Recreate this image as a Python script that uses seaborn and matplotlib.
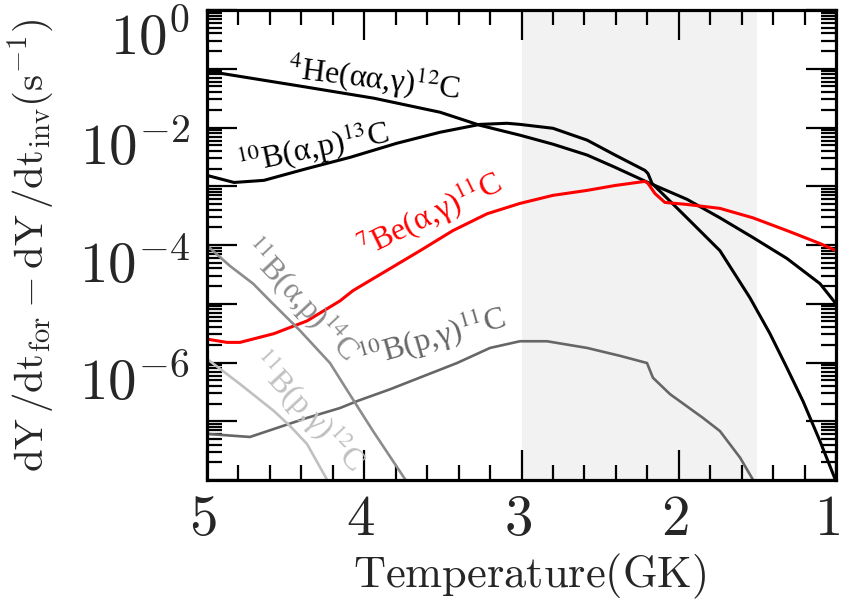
import matplotlib
matplotlib.use("Agg")
import matplotlib.pyplot as plt
import matplotlib.transforms as mtransforms
from matplotlib.ticker import MultipleLocator, LogLocator, NullFormatter
import pandas as pd
import seaborn as sns

# Net rates dY/dt_for - dY/dt_inv (s^-1) versus temperature (GK)
he4_T = [5.0, 4.917, 4.364, 3.938, 3.518, 3.264, 3.010, 2.800, 2.583, 2.405,
         2.196, 1.948, 1.738, 1.528, 1.312, 1.102, 1.0]
he4_rate = [9.1e-2, 8.4e-2, 4.85e-2, 3.15e-2, 1.82e-2, 1.09e-2, 7.4e-3, 5.2e-3,
            3.4e-3, 2.1e-3, 1.16e-3, 6.0e-4, 2.9e-4, 1.34e-4, 5.9e-5, 2.2e-5, 1.0e-5]

b10ap_T = [5.0, 4.828, 4.638, 4.364, 4.091, 3.792, 3.518, 3.264, 3.092, 3.010,
           2.800, 2.583, 2.405, 2.215, 2.196, 2.170, 1.948, 1.738, 1.547, 1.420,
           1.312, 1.210, 1.102, 1.0]
b10ap_rate = [1.53e-3, 1.16e-3, 1.26e-3, 2.0e-3, 3.1e-3, 5.4e-3, 8.3e-3, 1.13e-2,
              1.18e-2, 1.13e-2, 9.7e-3, 6.1e-3, 3.4e-3, 1.86e-3, 1.65e-3, 1.12e-3,
              2.9e-4, 8.0e-5, 1.26e-5, 3.1e-6, 8.1e-7, 2.2e-7, 4.6e-8, 9.5e-9]

be7ag_T = [5.0, 4.873, 4.790, 4.574, 4.364, 4.154, 4.072, 3.855, 3.645, 3.436,
           3.219, 3.010, 2.800, 2.583, 2.405, 2.215, 2.196, 2.151, 2.088, 1.948,
           1.738, 1.528, 1.312, 1.102, 1.0]
be7ag_rate = [2.5e-6, 2.2e-6, 2.2e-6, 3.1e-6, 5.1e-6, 1.12e-5, 1.67e-5, 3.7e-5,
              8.0e-5, 1.76e-4, 3.4e-4, 5.1e-4, 7.0e-4, 8.5e-4, 1.03e-3, 1.21e-3,
              1.12e-3, 7.5e-4, 5.3e-4, 4.9e-4, 4.2e-4, 2.9e-4, 1.76e-4, 1.06e-4, 8.0e-5]

b10pg_T = [5.0, 4.727, 4.574, 4.364, 4.154, 4.046, 3.836, 3.620, 3.410, 3.200,
           3.010, 2.838, 2.583, 2.374, 2.202, 2.164, 2.056, 1.846, 1.738, 1.610, 1.515]
b10pg_rate = [6.1e-8, 5.4e-8, 7.4e-8, 1.14e-7, 1.68e-7, 2.2e-7, 3.5e-7, 5.9e-7,
              9.8e-7, 1.77e-6, 2.3e-6, 2.3e-6, 1.77e-6, 1.30e-6, 9.8e-7, 5.5e-7,
              2.9e-7, 1.14e-7, 6.8e-8, 2.4e-8, 8.8e-9]

b11ap_T = [5.0, 4.854, 4.707, 4.599, 4.409, 4.218, 4.065, 3.944, 3.836, 3.728]
b11ap_rate = [9.8e-5, 4.4e-5, 2.2e-5, 1.12e-5, 3.5e-6, 9.8e-7, 2.2e-7, 6.8e-8,
              2.5e-8, 9.2e-9]

b11pg_T = [5.0, 4.790, 4.574, 4.472, 4.364, 4.224]
b11pg_rate = [1.15e-6, 4.3e-7, 1.49e-7, 8.3e-8, 4.1e-8, 8.8e-9]

x_ticks = [5, 4, 3, 2, 1]
y_label_exps = [0, -2, -4, -6]

reactions = [
    ("$^{4}$He(αα,γ)$^{12}$C", he4_T, he4_rate, "black", 2.2),
    ("$^{10}$B(α,p)$^{13}$C", b10ap_T, b10ap_rate, "black", 2.2),
    ("$^{7}$Be(α,γ)$^{11}$C", be7ag_T, be7ag_rate, "#ff0000", 2.2),
    ("$^{10}$B(p,γ)$^{11}$C", b10pg_T, b10pg_rate, "#666666", 1.9),
    ("$^{11}$B(α,p)$^{14}$C", b11ap_T, b11ap_rate, "#8c8c8c", 1.9),
    ("$^{11}$B(p,γ)$^{12}$C", b11pg_T, b11pg_rate, "#c0c0c0", 1.9),
]

# label anchor (T, rate) and rotation for each curve
label_pos = [(3.938, 6.9e-2, -7), (4.326, 4.4e-3, 12), (3.582, 3.2e-4, 26),
             (3.569, 2.6e-6, 16), (4.409, 1.22e-5, -47), (4.364, 1.5e-7, -47)]

sns.set_theme(style="ticks")
plt.rcParams["mathtext.fontset"] = "cm"
plt.rcParams["font.family"] = ["DejaVu Serif"]

fig = plt.figure(figsize=(8.41, 5.99), dpi=100, facecolor="white")
ax = fig.add_axes([207 / 841, 1 - 480 / 599, 629 / 841, 470 / 599])
ax.set_facecolor("white")

ax.axvspan(3.0, 1.5, color="#f2f2f2", lw=0, zorder=0)

for name, T, rate, color, lw in reactions:
    df = pd.DataFrame({"T": T, "rate": rate})
    sns.lineplot(data=df, x="T", y="rate", ax=ax, color=color, lw=lw,
                 estimator=None, sort=False, legend=False, zorder=3)

for (name, T, rate, color, lw), (tx, ty, rot) in zip(reactions, label_pos):
    ax.text(tx, ty, name, color=color, fontsize=23, rotation=rot,
            rotation_mode="anchor", ha="center", va="center",
            family=["Liberation Serif", "DejaVu Serif"], math_fontfamily="stix",
            zorder=4)

ax.set_yscale("log")
ax.set_ylim(1e-8, 1)
ax.set_xlim(5, 1)

ax.xaxis.set_major_locator(MultipleLocator(1))
ax.xaxis.set_minor_locator(MultipleLocator(0.2))
ax.xaxis.set_major_formatter(NullFormatter())
ax.yaxis.set_major_locator(LogLocator(base=10, numticks=20))
ax.yaxis.set_minor_locator(LogLocator(base=10, subs=range(2, 10), numticks=200))
ax.yaxis.set_major_formatter(NullFormatter())
ax.yaxis.set_minor_formatter(NullFormatter())

ax.tick_params(which="both", direction="in", top=True, right=True,
               color="black", width=1.6)
ax.tick_params(which="major", length=21.6)
ax.tick_params(which="minor", length=10.8)
for sp in ax.spines.values():
    sp.set_linewidth(2.3)
    sp.set_color("black")
    sp.set_zorder(5)

# temperature labels under the bottom axis; the last one is kept inside the canvas
xlab_tr = mtransforms.blended_transform_factory(ax.transData, ax.transAxes)
for v in x_ticks:
    if v == x_ticks[-1]:
        off = mtransforms.ScaledTranslation(4 / 100, -55 / 100, fig.dpi_scale_trans)
        ha = "right"
    else:
        off = mtransforms.ScaledTranslation(-4 / 100, -55 / 100, fig.dpi_scale_trans)
        ha = "center"
    ax.text(v, 0, f"${v}$", transform=xlab_tr + off, ha=ha,
            va="baseline", fontsize=41)

# decade labels on the left axis
ylab_tr = mtransforms.blended_transform_factory(ax.transAxes, ax.transData)
for exp in y_label_exps:
    drop = 45 if exp == 0 else 38
    off = mtransforms.ScaledTranslation(-17 / 100, -drop / 100, fig.dpi_scale_trans)
    ax.text(0, 10.0 ** exp, rf"$10^{{{exp}}}$", transform=ylab_tr + off,
            ha="right", va="baseline", fontsize=41)

ax.set_xlabel("")
ax.set_ylabel("")
fig.text(530 / 841, 1 - 587 / 599, r"$\mathrm{Temperature(GK)}$",
         ha="center", va="baseline", fontsize=32)
fig.text(31 / 841, 1 - 246 / 599,
         r"$\mathrm{dY\,/dt_{for}} - \mathrm{dY\,/dt_{inv}(s^{-1})}$",
         rotation=90, ha="center", va="center", fontsize=29.5)

fig.savefig("out.png", dpi=100, facecolor="white")
